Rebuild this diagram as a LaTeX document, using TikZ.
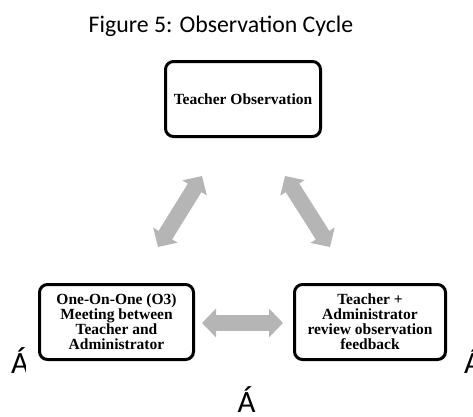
\documentclass[tikz,border=0pt]{standalone}
\usepackage{fontspec}
\setmainfont{Liberation Serif}
\newfontfamily\capfont{Carlito}
\usetikzlibrary{arrows.meta,shadows}

\definecolor{cyclegray}{HTML}{B5B5B5}

\tikzset{
  stagebox/.style={draw=black, line width=3pt, rounded corners=8pt, fill=white,
    drop shadow={opacity=0.25, shadow xshift=1.2pt, shadow yshift=-1.2pt},
    align=center, inner sep=0pt,
    font=\fontsize{15.5}{15}\selectfont\bfseries},
  cyclearrow/.style={draw=cyclegray, line width=16pt,
    {Triangle[length=14pt,width=28pt]}-{Triangle[length=14pt,width=28pt]}},
  bigletter/.style={font=\capfont\fontsize{31}{31}\selectfont, inner sep=0pt, anchor=base west}
}

\begin{document}
\begin{tikzpicture}[x=1pt, y=-1pt]
  \useasboundingbox (0,0) rectangle (473,416);

  % caption
  \node[font=\capfont\fontsize{23.8}{24}\selectfont, inner sep=0pt, anchor=base]
    (title) at (221,32) {Figure 5: Observation Cycle};

  % stray glyphs of the source document
  \begin{scope}
    \clip (0,330) rectangle (25.5,390);
    \node[bigletter] (gl) at (11,373) {Á};
  \end{scope}
  \node[bigletter] (gr) at (464,373) {Á};
  \node[bigletter, anchor=base] (gb) at (246.5,412) {Á};

  % the three stages
  \node[stagebox, minimum width=155pt, minimum height=75pt] (obs) at (243,99)
    {Teacher Observation};
  \node[stagebox, minimum width=154pt, minimum height=75pt] (meet) at (116.5,322)
    {One-On-One (O3)\\Meeting between\\Teacher and\\Administrator};
  \node[stagebox, minimum width=151pt, minimum height=75pt] (review) at (370,322)
    {Teacher +\\Administrator\\review observation\\feedback};

  % arrow end points between the stages
  \coordinate (a1) at (158,247);
  \coordinate (a2) at (202,176);
  \coordinate (b1) at (285,176);
  \coordinate (b2) at (330,247);
  \coordinate (c1) at (202,323);
  \coordinate (c2) at (283,323);

  \draw[cyclearrow] (a1) -- (a2);
  \draw[cyclearrow] (b1) -- (b2);
  \draw[cyclearrow] (c1) -- (c2);
\end{tikzpicture}
\end{document}
